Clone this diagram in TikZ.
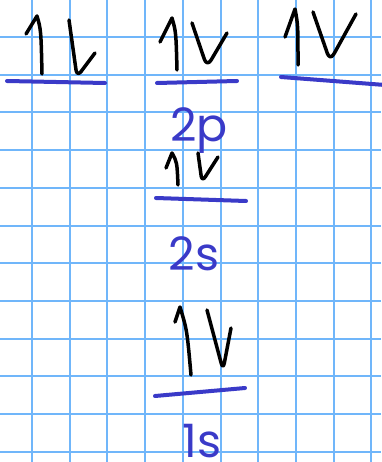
\documentclass[tikz,border=0pt]{standalone}
\usepackage{fontspec}
\usepackage{xcolor}
\newfontfamily\labelfont{Poppins}
\definecolor{gridblue}{RGB}{112,182,250}
\definecolor{penblue}{RGB}{58,58,200}
\tikzset{
  gridline/.style={gridblue,line width=2pt},
  orbital/.style={penblue,line width=4pt,line cap=round},
  spin/.style={black,line width=3.5pt,line cap=round,line join=round},
  sublabel/.style={penblue,anchor=base,inner sep=0pt,font=\labelfont\fontsize{46}{46}\selectfont}
}

\begin{document}
\begin{tikzpicture}[x=1pt,y=-1pt]
  \useasboundingbox[fill=white] (0,0) rectangle (381,462);
  % grid paper
  \draw[gridline] (32.0,0) -- (32.0,462);
  \draw[gridline] (69.7,0) -- (69.7,462);
  \draw[gridline] (107.4,0) -- (107.4,462);
  \draw[gridline] (145.1,0) -- (145.1,462);
  \draw[gridline] (182.8,0) -- (182.8,462);
  \draw[gridline] (220.5,0) -- (220.5,462);
  \draw[gridline] (258.2,0) -- (258.2,462);
  \draw[gridline] (295.9,0) -- (295.9,462);
  \draw[gridline] (333.6,0) -- (333.6,462);
  \draw[gridline] (371.3,0) -- (371.3,462);
  \draw[gridline] (0,37.0) -- (381,37.0);
  \draw[gridline] (0,74.7) -- (381,74.7);
  \draw[gridline] (0,112.4) -- (381,112.4);
  \draw[gridline] (0,150.1) -- (381,150.1);
  \draw[gridline] (0,187.8) -- (381,187.8);
  \draw[gridline] (0,225.5) -- (381,225.5);
  \draw[gridline] (0,263.2) -- (381,263.2);
  \draw[gridline] (0,300.9) -- (381,300.9);
  \draw[gridline] (0,338.6) -- (381,338.6);
  \draw[gridline] (0,376.3) -- (381,376.3);
  \draw[gridline] (0,414.0) -- (381,414.0);
  \draw[gridline] (0,451.7) -- (381,451.7);
  % orbital bars
  \coordinate (PxL) at (7,81);
  \coordinate (PxR) at (105,83);
  \coordinate (PyL) at (157,83);
  \coordinate (PyR) at (237,81);
  \coordinate (PzL) at (281,77);
  \coordinate (PzR) at (385,85);
  \coordinate (SiiL) at (156,198);
  \coordinate (SiiR) at (246,201);
  \coordinate (SiL) at (155,396);
  \coordinate (SiR) at (245,388);
  \draw[orbital] (PxL) -- (PxR);
  \draw[orbital] (PyL) -- (PyR);
  \draw[orbital] (PzL) -- (PzR);
  \draw[orbital] (SiiL) -- (SiiR);
  \draw[orbital] (SiL) -- (SiR);
  % sublevel labels
  \node[sublabel] (L2p) at (199,142) {2p};
  \node[sublabel] (L2s) at (194,270) {2s};
  \node[sublabel] (L1s) at (202,457) {1s};
  % electrons, 2p
  \draw[spin] (26,34) -- (37,16) .. controls (41,30) .. (42,74);
  \draw[spin,rounded corners=7pt] (69,20) -- (77,77) -- (95,53);
  \draw[spin] (160,42) -- (172,18) .. controls (176,32) .. (177,70);
  \draw[spin,rounded corners=8pt] (192,23) -- (207,67) -- (227,33);
  \draw[spin] (285,37) -- (295,9) .. controls (298,25) .. (298,65);
  \draw[spin,rounded corners=8pt] (313,12) -- (330,61) -- (356,14);
  % electrons, 2s
  \draw[spin] (166,168) -- (172,153) .. controls (177,162) .. (178,185);
  \draw[spin,rounded corners=6pt] (198,153) -- (202,182) -- (218,157);
  % electrons, 1s
  \draw[spin] (175,322) -- (180,307) .. controls (187,330) .. (191,375);
  \draw[spin,rounded corners=7pt] (207,310) -- (223,370) -- (231,328);
\end{tikzpicture}
\end{document}
